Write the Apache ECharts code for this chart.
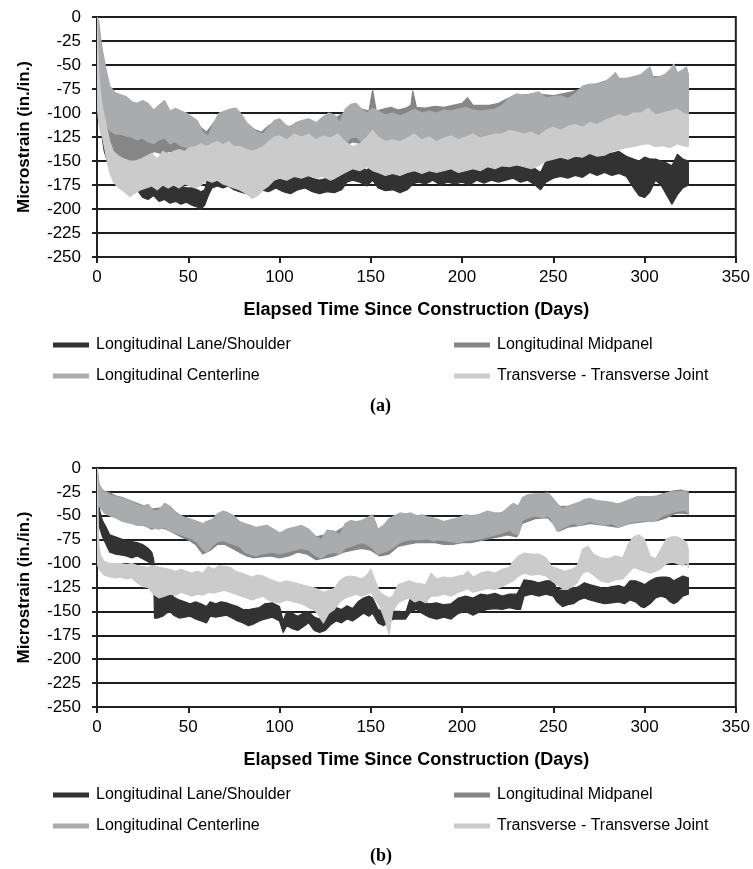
<!DOCTYPE html>
<html>
<head>
<meta charset="utf-8">
<script src="https://cdn.jsdelivr.net/npm/echarts@6/dist/echarts.min.js"></script>
<style>
html,body{margin:0;padding:0;background:#fff;}
#chart{width:753px;height:869px;}
</style>
</head>
<body>
<div id="chart"></div>
<script>
// ---------------- DATA ----------------
const SERIES_NAMES = ['Longitudinal Lane/Shoulder', 'Longitudinal Midpanel', 'Longitudinal Centerline', 'Transverse - Transverse Joint'];
const X_TICKS = [0, 50, 100, 150, 200, 250, 300, 350];
const Y_TICKS = [-250, -225, -200, -175, -150, -125, -100, -75, -50, -25, 0];
const X_TITLE = 'Elapsed Time Since Construction (Days)';
const Y_TITLE = 'Microstrain (in./in.)';
const PANEL_LABELS = ['(a)', '(b)'];

// each entry: [day, low, high]  (daily min / max envelope)
const A_LANE = [[0,-20,0],[1,-100,-60],[2,-115,-85],[4,-140,-115],[7,-158,-135],[10,-170,-145],[14,-178,-150],[18,-183,-155],[22,-180,-158],[25,-188,-168],[28,-190,-170],[31,-186,-170],[34,-192,-172],[37,-190,-170],[40,-194,-174],[43,-192,-175],[46,-195,-176],[49,-193,-178],[52,-196,-178],[55,-198,-180],[57,-200,-182],[59,-196,-180],[61,-186,-165],[63,-178,-162],[66,-176,-165],[69,-178,-164],[72,-176,-163],[75,-180,-168],[78,-182,-170],[82,-184,-171],[86,-183,-170],[90,-180,-168],[94,-182,-166],[98,-178,-163],[102,-182,-166],[106,-184,-168],[110,-180,-164],[114,-178,-165],[118,-182,-168],[122,-184,-170],[126,-182,-168],[130,-183,-170],[134,-180,-162],[137,-172,-152],[140,-170,-150],[144,-172,-155],[148,-176,-160],[151,-170,-150],[154,-178,-160],[158,-181,-163],[162,-180,-162],[166,-183,-165],[170,-180,-160],[173,-174,-152],[176,-172,-155],[180,-174,-156],[184,-170,-152],[188,-175,-156],[192,-172,-155],[196,-174,-154],[200,-172,-152],[204,-175,-155],[208,-170,-152],[212,-173,-154],[216,-170,-150],[220,-172,-153],[224,-170,-150],[228,-168,-148],[232,-172,-152],[236,-170,-150],[240,-175,-158],[243,-180,-162],[246,-172,-150],[250,-168,-146],[254,-166,-145],[258,-168,-148],[262,-165,-142],[266,-167,-146],[270,-162,-138],[274,-165,-143],[278,-162,-140],[282,-165,-142],[286,-163,-140],[290,-166,-145],[294,-178,-148],[297,-186,-150],[300,-188,-146],[303,-182,-148],[306,-170,-148],[309,-175,-150],[312,-185,-152],[315,-195,-155],[318,-185,-143],[321,-178,-148],[324,-175,-150]];
const A_MID = [[0,-40,0],[1,-70,-10],[2,-95,-30],[3,-110,-50],[5,-128,-80],[7,-140,-100],[10,-150,-110],[13,-152,-115],[16,-155,-118],[19,-153,-120],[22,-150,-120],[25,-148,-118],[28,-146,-112],[31,-140,-108],[35,-142,-106],[40,-140,-104],[45,-142,-106],[50,-145,-108],[55,-148,-112],[60,-150,-120],[65,-144,-108],[70,-140,-104],[75,-140,-100],[80,-144,-108],[85,-148,-116],[90,-150,-120],[95,-146,-112],[100,-144,-110],[105,-146,-115],[110,-142,-110],[115,-142,-108],[120,-144,-112],[125,-140,-104],[130,-142,-106],[135,-136,-100],[140,-130,-94],[145,-132,-96],[149,-134,-98],[151,-128,-76],[153,-134,-98],[157,-138,-96],[161,-136,-94],[165,-138,-97],[169,-136,-95],[172,-134,-92],[173,-130,-77],[175,-134,-94],[180,-136,-95],[185,-135,-93],[190,-134,-94],[195,-134,-92],[200,-132,-90],[203,-130,-84],[206,-132,-92],[210,-130,-92],[215,-128,-92],[220,-126,-90],[225,-122,-85],[230,-120,-82],[240,-122,-80],[250,-120,-82],[260,-118,-78],[270,-115,-72],[280,-112,-66],[290,-115,-66],[300,-120,-62],[310,-116,-62],[318,-114,-58],[324,-116,-60]];
const A_CENT = [[0,-50,0],[1,-70,-5],[2,-90,-22],[3,-100,-35],[4,-108,-45],[5,-112,-55],[7,-118,-72],[10,-122,-79],[13,-122,-81],[16,-124,-83],[19,-125,-88],[22,-128,-90],[25,-126,-87],[28,-130,-90],[31,-132,-97],[34,-128,-92],[37,-126,-87],[40,-132,-98],[43,-130,-95],[46,-134,-98],[49,-136,-100],[52,-138,-104],[55,-140,-108],[58,-150,-120],[61,-152,-124],[64,-142,-110],[67,-136,-100],[70,-134,-98],[73,-132,-96],[76,-135,-95],[79,-138,-101],[82,-142,-110],[85,-145,-115],[88,-148,-120],[91,-150,-122],[94,-145,-115],[97,-140,-108],[100,-138,-106],[103,-142,-112],[106,-144,-115],[109,-140,-110],[112,-138,-108],[116,-140,-106],[120,-142,-110],[124,-138,-104],[127,-136,-100],[130,-140,-102],[133,-142,-110],[136,-132,-96],[139,-126,-91],[142,-125,-90],[145,-130,-96],[148,-134,-100],[151,-132,-95],[154,-136,-98],[158,-140,-102],[162,-138,-100],[166,-140,-103],[170,-137,-100],[174,-136,-96],[178,-138,-100],[182,-136,-98],[186,-138,-100],[190,-135,-97],[194,-136,-98],[198,-134,-96],[202,-133,-94],[206,-135,-97],[210,-134,-98],[214,-132,-97],[218,-130,-96],[222,-128,-92],[226,-124,-84],[230,-122,-80],[234,-124,-82],[238,-126,-80],[242,-124,-78],[246,-126,-84],[250,-124,-83],[254,-122,-82],[258,-125,-85],[262,-120,-80],[266,-118,-72],[270,-116,-70],[274,-118,-70],[278,-115,-68],[282,-114,-62],[284,-112,-58],[286,-116,-64],[290,-118,-64],[294,-120,-62],[298,-125,-60],[301,-128,-55],[303,-126,-52],[305,-124,-64],[308,-120,-62],[311,-118,-60],[314,-115,-55],[316,-112,-49],[318,-116,-58],[321,-118,-55],[323,-120,-52],[324,-118,-60]];
const A_TRANS = [[0,-90,0],[1,-110,-60],[2,-120,-80],[3,-125,-95],[5,-145,-112],[7,-162,-130],[9,-172,-140],[12,-178,-145],[15,-182,-148],[18,-187,-150],[21,-183,-150],[24,-180,-148],[27,-178,-145],[30,-176,-142],[33,-180,-148],[36,-175,-140],[39,-178,-143],[42,-175,-140],[45,-178,-138],[48,-174,-140],[51,-176,-136],[54,-178,-135],[57,-175,-132],[60,-170,-135],[63,-172,-132],[66,-170,-130],[69,-174,-133],[72,-176,-130],[75,-178,-135],[78,-180,-135],[82,-184,-138],[85,-189,-140],[88,-186,-138],[91,-180,-135],[94,-176,-130],[97,-170,-125],[100,-168,-124],[104,-170,-128],[108,-166,-122],[112,-168,-125],[116,-165,-122],[120,-168,-128],[124,-166,-124],[128,-170,-126],[132,-166,-122],[136,-162,-130],[140,-158,-135],[144,-160,-132],[148,-156,-125],[151,-160,-118],[154,-162,-125],[158,-165,-130],[162,-163,-128],[166,-165,-130],[170,-162,-126],[174,-160,-122],[178,-163,-128],[182,-160,-125],[186,-162,-130],[190,-160,-126],[194,-158,-124],[198,-162,-128],[202,-160,-125],[206,-158,-122],[210,-160,-126],[214,-156,-124],[218,-158,-122],[222,-155,-122],[226,-156,-118],[230,-154,-120],[234,-156,-122],[238,-158,-120],[242,-155,-124],[246,-150,-118],[250,-148,-115],[254,-146,-118],[258,-148,-114],[262,-145,-112],[266,-146,-115],[270,-142,-110],[274,-145,-112],[278,-144,-108],[282,-140,-105],[286,-138,-102],[290,-136,-104],[294,-135,-100],[298,-133,-100],[302,-132,-95],[306,-135,-102],[310,-134,-100],[314,-136,-98],[318,-132,-96],[321,-134,-100],[324,-135,-102]];

const B_LANE = [[0,-10,0],[0.7,-55,-35],[1.5,-63,-45],[3,-72,-55],[5,-80,-62],[7,-88,-70],[10,-90,-72],[13,-91,-74],[16,-92,-76],[19,-94,-77],[22,-92,-78],[25,-95,-80],[28,-98,-84],[30,-100,-88],[31,-108,-95],[31.5,-157,-105],[33,-157,-133],[36,-155,-134],[38,-152,-132],[40,-150,-128],[42,-154,-135],[45,-157,-138],[48,-156,-140],[51,-155,-142],[54,-158,-140],[57,-160,-142],[60,-162,-145],[62,-155,-140],[65,-156,-142],[68,-155,-140],[71,-154,-141],[74,-157,-143],[77,-160,-145],[80,-162,-148],[83,-165,-148],[86,-163,-147],[89,-160,-146],[92,-158,-142],[96,-156,-141],[100,-160,-145],[102,-172,-160],[104,-165,-150],[107,-168,-152],[110,-170,-155],[113,-166,-152],[116,-162,-150],[119,-170,-156],[122,-172,-158],[125,-170,-155],[128,-164,-150],[131,-160,-146],[134,-162,-148],[137,-158,-144],[140,-160,-147],[143,-156,-140],[146,-152,-136],[149,-155,-134],[151,-152,-136],[154,-162,-148],[157,-165,-150],[160,-160,-150],[163,-158,-150],[166,-158,-150],[169,-158,-152],[172,-150,-134],[175,-148,-134],[178,-152,-140],[182,-156,-142],[186,-158,-141],[190,-156,-143],[194,-158,-142],[198,-152,-136],[202,-150,-134],[206,-154,-136],[210,-150,-132],[214,-148,-133],[218,-147,-131],[222,-148,-134],[226,-146,-132],[230,-148,-132],[232,-148,-125],[234,-134,-117],[238,-132,-118],[242,-134,-120],[246,-132,-118],[250,-134,-118],[252,-140,-127],[255,-145,-128],[258,-143,-128],[261,-142,-126],[264,-138,-124],[267,-136,-120],[270,-138,-122],[274,-140,-124],[278,-142,-126],[282,-141,-124],[286,-140,-123],[289,-142,-125],[292,-138,-118],[295,-140,-118],[298,-145,-120],[300,-146,-122],[303,-142,-118],[306,-136,-115],[309,-134,-114],[312,-136,-114],[314,-140,-115],[316,-142,-118],[318,-140,-116],[321,-134,-113],[324,-132,-115]];
const B_MID = [[0,-45,0],[1,-40,-18],[2,-42,-22],[4,-45,-24],[7,-48,-26],[10,-50,-29],[14,-53,-31],[18,-55,-34],[22,-58,-37],[26,-60,-40],[30,-64,-43],[34,-62,-42],[38,-64,-40],[42,-68,-45],[46,-72,-50],[50,-75,-53],[54,-80,-56],[58,-90,-62],[62,-86,-58],[66,-80,-52],[70,-80,-50],[74,-84,-54],[78,-88,-58],[82,-92,-62],[86,-94,-64],[90,-93,-62],[95,-92,-64],[100,-94,-68],[105,-92,-66],[110,-88,-62],[115,-90,-64],[120,-96,-72],[125,-94,-70],[130,-92,-68],[135,-88,-62],[140,-86,-58],[145,-84,-58],[150,-86,-54],[155,-92,-66],[160,-90,-60],[165,-82,-52],[170,-80,-52],[175,-78,-52],[180,-78,-52],[185,-78,-54],[190,-80,-58],[195,-80,-56],[200,-78,-52],[205,-78,-52],[210,-76,-50],[215,-74,-48],[220,-72,-48],[225,-70,-44],[230,-72,-42],[233,-58,-33],[240,-53,-29],[247,-52,-28],[250,-58,-34],[253,-66,-40],[258,-62,-40],[265,-60,-36],[270,-58,-34],[278,-60,-36],[285,-62,-38],[292,-58,-34],[300,-56,-31],[307,-55,-30],[312,-52,-26],[316,-48,-24],[320,-47,-23],[324,-48,-25]];
const B_CENT = [[0,-40,0],[1,-38,-15],[2,-42,-20],[4,-47,-25],[7,-50,-28],[10,-52,-30],[13,-55,-31],[16,-57,-33],[19,-58,-35],[22,-60,-38],[25,-60,-40],[28,-62,-38],[31,-63,-45],[34,-64,-44],[37,-62,-37],[40,-66,-40],[43,-68,-46],[46,-70,-50],[49,-72,-53],[52,-74,-54],[55,-78,-56],[58,-85,-58],[60,-88,-56],[63,-82,-54],[66,-77,-48],[69,-76,-45],[72,-78,-47],[75,-80,-50],[78,-82,-56],[81,-88,-58],[84,-90,-60],[87,-92,-62],[90,-90,-61],[93,-89,-60],[96,-88,-63],[100,-90,-68],[104,-88,-64],[108,-86,-62],[112,-84,-60],[116,-86,-64],[120,-92,-72],[123,-94,-75],[126,-90,-65],[130,-88,-66],[133,-90,-70],[136,-84,-58],[139,-82,-55],[142,-80,-56],[145,-78,-55],[148,-80,-52],[151,-84,-49],[154,-90,-64],[157,-88,-60],[160,-86,-53],[163,-82,-50],[166,-78,-47],[169,-76,-48],[172,-75,-47],[175,-75,-50],[178,-75,-49],[181,-74,-51],[184,-76,-52],[187,-75,-54],[190,-76,-56],[194,-77,-54],[198,-78,-52],[202,-76,-49],[206,-75,-50],[210,-74,-48],[214,-72,-45],[218,-70,-47],[222,-68,-47],[226,-65,-40],[228,-68,-37],[231,-70,-40],[233,-55,-31],[236,-52,-28],[240,-50,-27],[244,-52,-27],[247,-50,-26],[249,-54,-30],[252,-66,-37],[255,-63,-43],[258,-60,-40],[261,-58,-38],[264,-60,-36],[267,-58,-33],[270,-56,-32],[274,-58,-34],[278,-60,-35],[282,-58,-36],[286,-62,-38],[289,-60,-35],[292,-57,-33],[296,-56,-30],[300,-55,-30],[304,-56,-30],[307,-54,-29],[310,-50,-27],[313,-48,-26],[316,-46,-25],[319,-45,-25],[322,-44,-24],[324,-47,-28]];
const B_TRANS = [[0,-100,0],[1,-105,-80],[2,-108,-92],[4,-112,-98],[7,-114,-100],[10,-115,-100],[13,-114,-100],[16,-116,-101],[19,-115,-100],[22,-120,-102],[25,-124,-103],[28,-125,-104],[31,-132,-102],[34,-136,-104],[37,-134,-105],[40,-132,-106],[43,-133,-108],[46,-130,-106],[49,-132,-108],[52,-134,-110],[55,-132,-108],[58,-133,-110],[61,-130,-103],[64,-131,-106],[67,-129,-102],[70,-128,-103],[73,-130,-104],[76,-132,-108],[79,-134,-110],[82,-136,-112],[85,-138,-114],[88,-136,-112],[91,-134,-113],[94,-138,-116],[97,-140,-118],[100,-141,-120],[104,-138,-118],[108,-140,-120],[112,-142,-122],[116,-146,-124],[120,-150,-126],[124,-162,-130],[127,-152,-128],[130,-148,-126],[133,-140,-118],[136,-136,-114],[139,-134,-113],[142,-132,-114],[145,-134,-116],[148,-132,-112],[150,-130,-106],[152,-136,-116],[155,-145,-130],[158,-160,-134],[160,-174,-136],[162,-150,-134],[165,-141,-122],[168,-138,-120],[171,-136,-118],[174,-140,-120],[177,-138,-121],[180,-141,-122],[183,-134,-110],[186,-134,-116],[190,-132,-114],[194,-134,-115],[198,-130,-113],[201,-128,-112],[203,-126,-108],[206,-130,-114],[210,-128,-110],[214,-126,-108],[218,-127,-110],[222,-124,-106],[226,-120,-104],[228,-118,-98],[231,-113,-92],[234,-110,-89],[238,-112,-90],[242,-111,-90],[246,-113,-94],[249,-118,-103],[252,-122,-105],[256,-127,-108],[260,-125,-106],[263,-120,-103],[266,-110,-85],[269,-108,-82],[272,-112,-90],[276,-118,-94],[280,-120,-95],[284,-117,-92],[288,-116,-94],[291,-110,-80],[294,-104,-72],[297,-106,-70],[300,-108,-75],[303,-110,-92],[306,-108,-95],[309,-105,-85],[312,-100,-74],[315,-98,-72],[318,-100,-72],[321,-102,-75],[323,-99,-78],[324,-104,-85]];

const PANELS = [[A_LANE, A_MID, A_CENT, A_TRANS], [B_LANE, B_MID, B_CENT, B_TRANS]];

// ---------------- STYLE ----------------
const COLORS = ['#323232', '#868686', '#a9abad', '#cbcbcb'];
const FONT = "'Liberation Sans', Arial, sans-serif";
const GRIDS = [{left: 97, top: 17, width: 642, height: 240}, {left: 97, top: 468, width: 642, height: 239}];

function bandSeries(name, color, data, idx) {
  return {
    type: 'custom', name: name, xAxisIndex: idx, yAxisIndex: idx,
    itemStyle: {color: color},
    data: data,
    encode: {x: 0, y: [1, 2]},
    clip: true,
    silent: true,
    renderItem: function (params, api) {
      if (params.dataIndex !== 0) return null;
      const upper = data.map(d => api.coord([d[0], d[2]]));
      const lower = data.map(d => api.coord([d[0], d[1]])).reverse();
      return {type: 'polygon', shape: {points: upper.concat(lower)},
              style: {fill: color, stroke: color, lineWidth: 1.2, lineJoin: 'round'}};
    }
  };
}

const option = {
  animation: false,
  backgroundColor: '#fff',
  grid: GRIDS.map(g => Object.assign({show: true, borderColor: '#222', borderWidth: 2, backgroundColor: 'transparent'}, g)),
  xAxis: GRIDS.map((g, i) => ({
    gridIndex: i, type: 'value', min: X_TICKS[0], max: X_TICKS[X_TICKS.length - 1], interval: X_TICKS[1] - X_TICKS[0],
    name: X_TITLE, nameLocation: 'middle', nameGap: 44,
    nameTextStyle: {fontFamily: FONT, fontSize: 18, fontWeight: 'bold', color: '#000'},
    axisLine: {show: true, onZero: false, lineStyle: {color: '#222', width: 2}},
    axisTick: {show: true, inside: false, length: 6, lineStyle: {color: '#222', width: 2}},
    axisLabel: {fontFamily: FONT, fontSize: 17, color: '#000', margin: 12},
    splitLine: {show: false}
  })),
  yAxis: GRIDS.map((g, i) => ({
    gridIndex: i, type: 'value', min: Y_TICKS[0], max: Y_TICKS[Y_TICKS.length - 1], interval: Y_TICKS[1] - Y_TICKS[0],
    name: Y_TITLE, nameLocation: 'middle', nameGap: 64,
    nameTextStyle: {fontFamily: FONT, fontSize: 17, fontWeight: 'bold', color: '#000'},
    axisLine: {show: true, onZero: false, lineStyle: {color: '#222', width: 2}},
    axisTick: {show: true, inside: false, length: 5, lineStyle: {color: '#222', width: 2}},
    axisLabel: {fontFamily: FONT, fontSize: 17, color: '#000', margin: 16},
    splitLine: {show: true, lineStyle: {color: '#1e1e1e', width: 2}}
  })),
  legend: [],
  graphic: [],
  series: []
};

PANELS.forEach((panel, p) => {
  panel.forEach((data, s) => option.series.push(bandSeries(SERIES_NAMES[s], COLORS[s], data, p)));
  const axisBottom = GRIDS[p].top + GRIDS[p].height;
  const rows = [axisBottom + 80, axisBottom + 111];
  const cols = [53, 454];
  SERIES_NAMES.forEach((nm, s) => {
    option.legend.push({
      data: [nm], left: cols[s % 2], top: rows[Math.floor(s / 2)],
      icon: 'rect', itemWidth: 36, itemHeight: 5, padding: 0, itemGap: 0,
      selectedMode: false,
      textStyle: {fontFamily: FONT, fontSize: 16, color: '#000', padding: [0, 0, 0, 2]}
    });
  });
  option.graphic.push({
    type: 'text', left: 370, top: axisBottom + 140,
    style: {text: PANEL_LABELS[p], font: "bold 18px 'Liberation Serif', 'Times New Roman', serif", fill: '#000'}
  });
});

const chart = echarts.init(document.getElementById('chart'), null, {renderer: 'canvas'});
chart.setOption(option);
</script>
</body>
</html>
